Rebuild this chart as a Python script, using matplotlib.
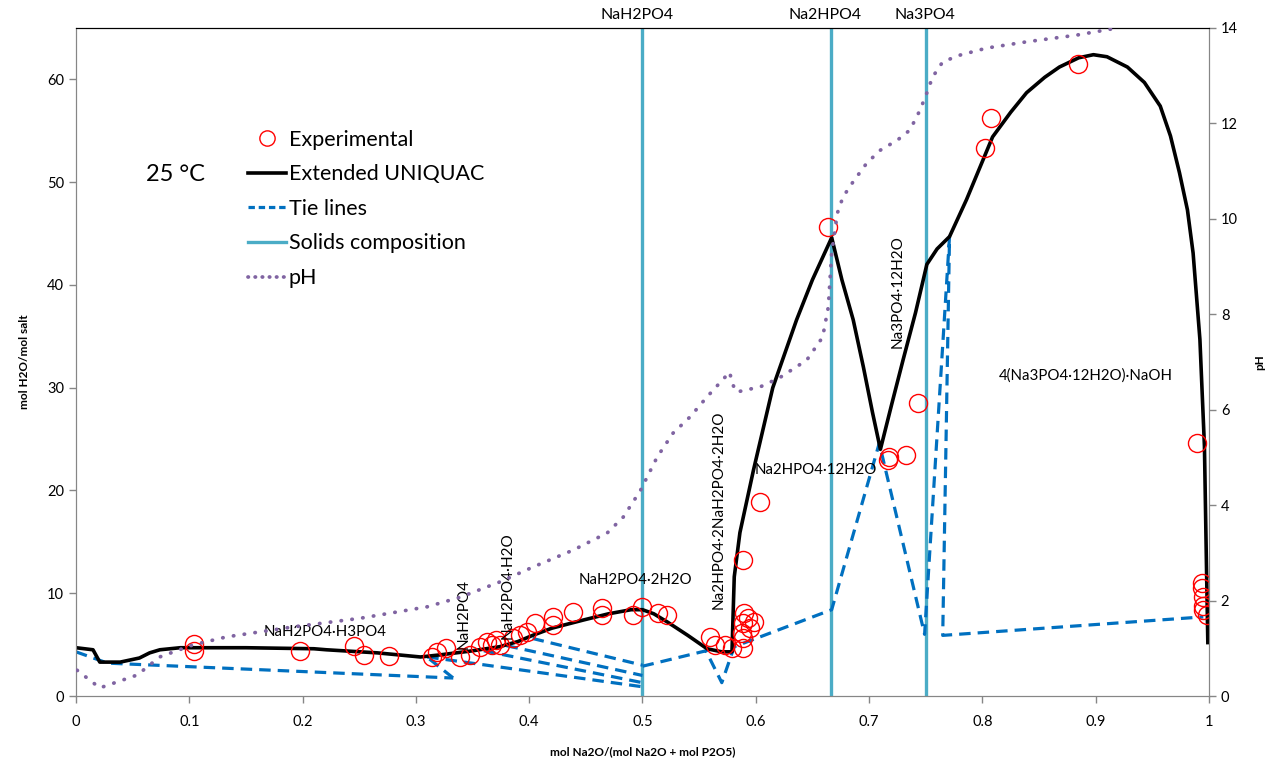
import matplotlib
matplotlib.use("Agg")
import matplotlib.pyplot as plt
from matplotlib.lines import Line2D

plt.rcParams['font.family'] = ['Lato', 'DejaVu Sans']

# Extended UNIQUAC solubility curve
model_x = [0.0, 0.015, 0.021, 0.039, 0.056, 0.065, 0.074, 0.092, 0.15, 0.21,
           0.221, 0.266, 0.304, 0.321, 0.35, 0.374, 0.39, 0.403, 0.42, 0.448,
           0.47, 0.49, 0.5, 0.51, 0.522, 0.54, 0.557, 0.57, 0.579, 0.580,
           0.581, 0.586, 0.598, 0.615, 0.636, 0.65, 0.667, 0.676, 0.686, 0.695,
           0.703, 0.710, 0.72, 0.730, 0.741, 0.751, 0.76, 0.771, 0.786, 0.809,
           0.825, 0.839, 0.855, 0.868, 0.885, 0.898, 0.910, 0.928, 0.943, 0.957,
           0.966, 0.974, 0.981, 0.986, 0.992, 0.996, 0.998, 0.999]
model_y = [4.7, 4.5, 3.3, 3.3, 3.7, 4.2, 4.5, 4.7, 4.7, 4.6,
           4.5, 4.2, 3.8, 4.0, 4.4, 4.8, 5.3, 5.9, 6.6, 7.4,
           8.0, 8.4, 8.4, 8.0, 7.2, 5.9, 4.6, 4.3, 4.3, 8.0,
           11.6, 15.9, 22.0, 30.0, 36.6, 40.5, 44.6, 40.5, 36.6, 32.0,
           27.6, 24.0, 28.4, 32.7, 37.3, 42.0, 43.5, 44.7, 48.3, 54.4,
           56.8, 58.7, 60.2, 61.2, 62.1, 62.4, 62.2, 61.2, 59.7, 57.4,
           54.5, 50.9, 47.3, 43.1, 34.7, 24.3, 11.3, 5.2]

# measured solubility points
exp_x = [0.104, 0.104, 0.198, 0.245, 0.254, 0.276, 0.314, 0.319, 0.327, 0.339,
         0.348, 0.357, 0.363, 0.367, 0.371, 0.374, 0.386, 0.392, 0.398, 0.405,
         0.421, 0.421, 0.439, 0.464, 0.464, 0.492, 0.5, 0.514, 0.522, 0.560,
         0.564, 0.573, 0.579, 0.589, 0.588, 0.589, 0.590, 0.593, 0.598, 0.595,
         0.589, 0.589, 0.604, 0.664, 0.717, 0.718, 0.733, 0.743, 0.802, 0.808,
         0.884, 0.989, 0.994, 0.994, 0.995, 0.995, 0.995, 0.998]
exp_y = [5.1, 4.4, 4.4, 4.9, 4.0, 3.9, 3.8, 4.3, 4.7, 3.8,
         4.0, 4.8, 5.3, 5.0, 5.5, 5.0, 5.6, 5.9, 6.2, 7.1,
         6.9, 7.7, 8.2, 8.6, 7.9, 7.9, 8.7, 8.1, 7.9, 5.7,
         5.0, 5.0, 4.7, 4.7, 6.1, 7.1, 8.1, 7.6, 7.2, 6.6,
         5.6, 13.2, 18.9, 45.6, 23.0, 23.3, 23.5, 28.5, 53.3, 56.2,
         61.5, 24.6, 11.0, 10.5, 9.6, 8.8, 8.4, 7.9]

# tie lines, one polyline per list entry
tie_x = [[0.0, 0.028, 0.333],
         [0.312, 0.333],
         [0.31, 0.5],
         [0.36, 0.5],
         [0.38, 0.5],
         [0.403, 0.5],
         [0.5, 0.556, 0.570, 0.581, 0.667, 0.709, 0.749, 0.771, 0.765, 0.995]]
tie_y = [[4.3, 3.2, 1.75],
         [3.6, 1.75],
         [3.8, 0.9],
         [4.4, 1.3],
         [4.9, 2.0],
         [5.6, 3.0],
         [2.9, 4.4, 1.3, 4.8, 8.4, 24.6, 6.0, 44.7, 5.9, 7.7]]

# pH along the curve (right axis)
ph_x = [0.001, 0.021, 0.054, 0.074, 0.103, 0.133, 0.192, 0.251, 0.310, 0.339,
        0.374, 0.403, 0.439, 0.469, 0.483, 0.498, 0.513, 0.527, 0.542, 0.557,
        0.577, 0.579, 0.583, 0.604, 0.621, 0.645, 0.659, 0.664, 0.667, 0.672,
        0.677, 0.686, 0.698, 0.710, 0.725, 0.736, 0.745, 0.751, 0.756, 0.765,
        0.780, 0.804, 0.839, 0.883, 0.919]
ph_y = [0.54, 0.17, 0.44, 0.82, 1.07, 1.24, 1.45, 1.63, 1.87, 2.07,
        2.39, 2.70, 3.06, 3.42, 3.75, 4.30, 5.01, 5.51, 5.85, 6.27,
        6.79, 6.56, 6.37, 6.48, 6.67, 7.04, 7.52, 8.15, 9.29, 10.12,
        10.46, 10.78, 11.17, 11.44, 11.65, 11.86, 12.28, 12.64, 12.97, 13.29,
        13.43, 13.58, 13.71, 13.85, 14.0]

# stoichiometric solids
solid_x = [0.5, 2 / 3, 0.75]
solid_names = ['NaH2PO4', 'Na2HPO4', 'Na3PO4']
solid_label_x = [0.495, 0.661, 0.749]

# phase labels: text, x, y, rotation
phase_labels = [
    ('NaH2PO4·H3PO4', 0.22, 6.2, 0),
    ('NaH2PO4', 0.342, 8.0, 90),
    ('NaH2PO4·H2O', 0.381, 10.7, 90),
    ('NaH2PO4·2H2O', 0.494, 11.3, 0),
    ('Na2HPO4·2NaH2PO4·2H2O', 0.567, 18.1, 90),
    ('Na2HPO4·12H2O', 0.653, 22.0, 0),
    ('Na3PO4·12H2O', 0.725, 39.4, 90),
    ('4(Na3PO4·12H2O)·NaOH', 0.891, 31.2, 0),
]

red = '#FF0000'
blue = '#0070C0'
cyan = '#4BACC6'
purple = '#8064A2'
grey = '#868686'

fig = plt.figure(figsize=(12.86, 7.75), dpi=100)
ax = fig.add_axes([0.0591, 0.1019, 0.881, 0.862])
ax2 = ax.twinx()

for sx in solid_x:
    ax.plot([sx, sx], [0, 65], color=cyan, lw=2.4, zorder=2)
for tx, ty in zip(tie_x, tie_y):
    ax.plot(tx, ty, color=blue, lw=2.3, ls=(0, (3.6, 2.2)), zorder=3)
ax.plot(model_x, model_y, color='black', lw=2.6, zorder=4)
ax.plot(exp_x, exp_y, ls='none', marker='o', ms=13, mfc='none',
        mec=red, mew=1.0, zorder=5)

ax2.plot(ph_x, ph_y, color=purple, lw=2.7, ls=(0, (0.1, 2.8)),
         dash_capstyle='round', zorder=3)

for name, lx in zip(solid_names, solid_label_x):
    ax.text(lx, 65.6, name, ha='center', va='bottom', fontsize=11.4)
for txt, lx, ly, rot in phase_labels:
    ax.text(lx, ly, txt, ha='center', va='center', rotation=rot,
            fontsize=11 if rot else 10.8, zorder=6)
ax.text(0.088, 50.7, '25 °C', ha='center', va='center', fontsize=17)

ax.set_xlim(0, 1)
ax.set_ylim(0, 65)
ax2.set_ylim(0, 14)
ax.set_xticks([i / 10 for i in range(11)])
ax.set_xticklabels(['0', '0.1', '0.2', '0.3', '0.4', '0.5', '0.6', '0.7',
                    '0.8', '0.9', '1'])
ax.set_yticks(range(0, 61, 10))
ax2.set_yticks(range(0, 15, 2))

for a in (ax, ax2):
    for side in ('left', 'right', 'bottom'):
        a.spines[side].set_color(grey)
    a.spines['top'].set_color('black')
    a.tick_params(color=grey, length=5, labelsize=10.5, width=1)
ax.tick_params(axis='x', pad=9)

ax.set_xlabel('mol Na2O/(mol Na2O + mol P2O5)', fontsize=8.5,
              fontweight='bold', labelpad=12)
ax.set_ylabel('mol H2O/mol salt', fontsize=8.5, fontweight='bold',
              labelpad=12)
ax2.set_ylabel('pH', fontsize=8.5, fontweight='bold', labelpad=12)

handles = [
    Line2D([], [], ls='none', marker='o', ms=11, mfc='none', mec=red, mew=1.0),
    Line2D([], [], color='black', lw=2.6),
    Line2D([], [], color=blue, lw=2.3, ls=(0, (2.0, 1.2))),
    Line2D([], [], color=cyan, lw=2.4),
    Line2D([], [], color=purple, lw=2.7, ls=(0, (0.1, 1.8)),
           dash_capstyle='round'),
]
labels = ['Experimental', 'Extended UNIQUAC', 'Tie lines',
          'Solids composition', 'pH']
ax2.legend(handles, labels, loc='upper left', bbox_to_anchor=(0.1518, 0.848),
           frameon=False, fontsize=15.5, handlelength=1.75, handletextpad=0.15,
           labelspacing=0.68, borderpad=0, borderaxespad=0)

fig.savefig('out.png', dpi=100)
